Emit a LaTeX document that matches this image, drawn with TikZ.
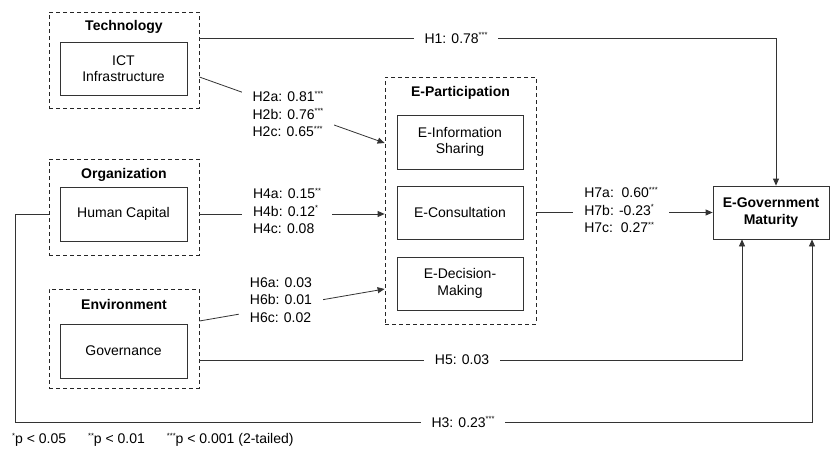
\documentclass[tikz,border=0pt]{standalone}
\usepackage{fontspec}
\setmainfont{Liberation Sans}
\usetikzlibrary{arrows.meta,calc}
\newcommand{\sig}[1]{\raisebox{0.75ex}{\fontsize{7.5}{7.5}\selectfont #1}}
\tikzset{
  ln/.style={draw=black!80, line width=0.8pt},
  arr/.style={ln, -{Triangle[length=7pt,width=6pt]}},
  dbox/.style={draw=black!85, line width=0.8pt, dash pattern=on 4pt off 3pt, minimum width=150, inner sep=0pt},
  sbox/.style={draw=black!80, line width=0.8pt, minimum width=127, minimum height=54, align=center, inner sep=0pt, font=\fontsize{14}{16.5}\selectfont},
  ttl/.style={font=\fontsize{14}{16.5}\selectfont\bfseries, inner sep=0pt},
  lbl/.style={fill=white, align=left, inner xsep=11pt, inner ysep=2pt, font=\fontsize{14}{17.5}\selectfont}
}
\begin{document}
\begin{tikzpicture}[x=1pt,y=-1pt]
\useasboundingbox (0,0) rectangle (830,453);
% Technology
\node[dbox, minimum height=96] (tech) at (124,60) {};
\node[ttl] (techT) at (124,27) {Technology};
\node[sbox, minimum height=53] (ict) at (123.5,68.5) {ICT\\Infrastructure};
% Organization
\node[dbox, minimum height=96] (org) at (124,207) {};
\node[ttl] (orgT) at (124,175) {Organization};
\node[sbox] (hc) at (123.5,214) {Human Capital};
% Environment
\node[dbox, minimum height=99] (env) at (124,338.5) {};
\node[ttl] (envT) at (124,304) {Environment};
\node[sbox] (gov) at (123.5,351) {Governance};
% E-Participation
\node[dbox, minimum width=151, minimum height=247] (ep) at (460.5,200.5) {};
\node[ttl] (epT) at (460.5,93) {E-Participation};
\node[sbox, minimum width=126] (eis) at (460,142) {E-Information\\Sharing};
\node[sbox, minimum width=126, minimum height=53] (ec) at (460,212.5) {E-Consultation};
\node[sbox, minimum width=126, minimum height=53] (ed) at (460,283.5) {E-Decision-\\Making};
% E-Government
\node[sbox, minimum width=116, minimum height=53, font=\fontsize{14}{16.5}\selectfont\bfseries] (egov) at (771,212.5) {E-Government\\Maturity};
% coordinates
\coordinate (h1turn) at (776,38);
\coordinate (h5turn) at (742,360);
\coordinate (h3a) at (15,214);
\coordinate (h3b) at (15,422);
\coordinate (h3c) at (812,422);
% H1
\draw[arr] (tech.east |- h1turn) -- (h1turn) -- (egov.north -| h1turn);
\node[lbl] (l1) at (456,38) {H1: 0.78\sig{***}};
% H2
\draw[arr] ($(tech.east)+(0,17)$) -- ($(ep.west |- eis)+(0,1)$);
\node[lbl] (l2) at (288,114) {H2a: 0.81\sig{***}\\H2b: 0.76\sig{***}\\H2c: 0.65\sig{***}};
% H4
\draw[arr] (org.east |- hc) -- (ep.west |- hc);
\node[lbl] (l4) at (287,211) {H4a: 0.15\sig{**}\\H4b: 0.12\sig{*}\\H4c: 0.08};
% H6
\draw[arr] ($(env.east)+(0,-17.5)$) -- ($(ep.west |- ed)+(0,5.5)$);
\node[lbl] (l6) at (281,300) {H6a: 0.03\\H6b: 0.01\\H6c: 0.02};
% H7
\draw[arr] (ep.east |- ec) -- (egov.west);
\node[lbl] (l7) at (621,210) {H7a:\ \ 0.60\sig{***}\\H7b: -0.23\sig{*}\\H7c:\ \ 0.27\sig{**}};
% H5
\draw[arr] (env.east |- h5turn) -- (h5turn) -- (egov.south -| h5turn);
\node[lbl] (l5) at (462,360) {H5: 0.03};
% H3
\draw[arr] (org.west |- hc) -- (h3a) -- (h3b) -- (h3c) -- (egov.south -| h3c);
\node[lbl] (l3) at (463,422) {H3: 0.23\sig{***}};
% footer
\node[anchor=west, inner sep=0pt, font=\fontsize{14}{16}\selectfont] (foot) at (12,440) {\sig{*}p < 0.05\hspace{22pt}\sig{**}p < 0.01\hspace{22pt}\sig{***}p < 0.001 (2-tailed)};
\end{tikzpicture}
\end{document}
